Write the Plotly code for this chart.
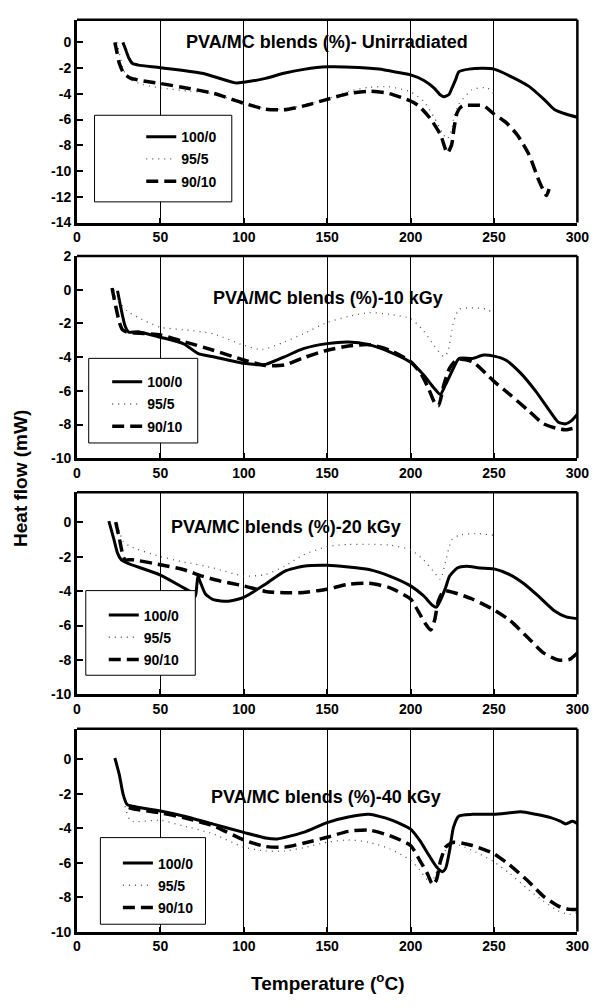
import plotly.graph_objects as go

# ---------------- data ----------------
series_names = ["100/0", "95/5", "90/10"]
panel_titles = ["PVA/MC blends (%)- Unirradiated", "PVA/MC blends (%)-10 kGy",
                "PVA/MC blends (%)-20 kGy", "PVA/MC blends (%)-40 kGy"]
x_ticks = [0, 50, 100, 150, 200, 250, 300]
y_ticks_p1 = [0, -2, -4, -6, -8, -10, -12, -14]
y_ticks_p2 = [2, 0, -2, -4, -6, -8, -10]
y_ticks_p34 = [0, -2, -4, -6, -8, -10]

# Panel 1: unirradiated
T1_100 = [27.5, 29, 31, 33.3, 36.7, 50, 75, 95, 100, 113, 124, 136, 150, 169, 181, 192, 200, 208, 214, 218, 220, 223, 225, 227, 229, 235, 244, 250, 259, 271, 280, 286, 293, 300]
H1_100 = [0, -0.5, -1.2, -1.65, -1.77, -1.97, -2.4, -3.15, -3.1, -2.8, -2.4, -2.1, -1.9, -1.95, -2.08, -2.33, -2.53, -2.96, -3.54, -4.1, -4.23, -4.05, -3.5, -2.9, -2.28, -2.08, -2.02, -2.08, -2.58, -3.42, -4.43, -5.19, -5.57, -5.82]
T1_95 = [24, 26, 28, 32, 40, 50, 68, 82, 100, 113, 124, 136, 150, 163, 175, 187, 200, 208, 214, 219, 222, 224.6, 226, 229, 237, 246, 250]
H1_95 = [0, -1.2, -2.2, -2.9, -3.3, -3.54, -3.8, -4.0, -4.75, -5.15, -5.2, -4.9, -4.4, -3.8, -3.5, -3.45, -3.85, -4.6, -5.8, -7.0, -7.5, -6.8, -5.8, -4.8, -3.67, -3.54, -4.0]
T1_90 = [22.7, 24, 25.4, 28, 32, 40, 50, 68, 82, 100, 113, 124, 136, 150, 163, 175, 187, 200, 205, 212, 218, 222, 224.6, 226, 228, 231, 239, 244, 250, 257, 264, 271, 277, 281.5, 283]
H1_90 = [0, -0.8, -1.65, -2.4, -2.78, -3.0, -3.2, -3.6, -3.97, -4.73, -5.19, -5.24, -4.94, -4.43, -3.97, -3.8, -3.97, -4.56, -4.94, -5.95, -7.2, -8.6, -7.97, -6.7, -5.44, -4.94, -4.89, -4.94, -5.57, -6.2, -7.2, -8.73, -10.76, -11.9, -11.4]

# Panel 2: 10 kGy
T2_100 = [24.3, 26.5, 28.8, 31, 36.7, 50, 63.7, 72.7, 81.7, 100, 113, 124.4, 135.7, 150, 162.7, 175, 187.4, 200, 207.7, 214, 217.8, 221, 225.7, 229, 237, 243.7, 250, 257, 266, 275, 284, 288.6, 293, 296.5, 300]
H2_100 = [-0.06, -1.17, -2.14, -2.52, -2.49, -2.82, -3.2, -3.79, -3.98, -4.37, -4.43, -3.98, -3.5, -3.2, -3.1, -3.26, -3.69, -4.31, -5.05, -5.83, -6.21, -5.63, -4.66, -4.08, -4.08, -3.88, -3.94, -4.17, -4.95, -6.02, -7.28, -7.86, -7.96, -7.77, -7.38]
T2_95 = [22, 23.2, 30, 36.7, 50, 63.7, 81.7, 100, 111, 124.4, 135.7, 150, 162.7, 175, 187.4, 200, 207.7, 214, 220, 222.3, 225.7, 229, 237, 246, 250]
H2_95 = [0, -0.4, -1.26, -1.65, -2.23, -2.37, -2.62, -3.3, -3.55, -3.1, -2.62, -1.94, -1.59, -1.36, -1.46, -1.71, -2.43, -3.3, -3.98, -3.69, -1.94, -1.17, -1.07, -1.17, -1.46]
T2_90 = [21, 23.2, 25.4, 27.2, 30, 50, 63.7, 81.7, 100, 113, 124.4, 135.7, 150, 162.7, 175, 187.4, 200, 206.6, 211, 214.4, 216.7, 220, 223.4, 228, 237, 250, 259.4, 270.7, 279.7, 288.6, 293, 300]
H2_90 = [0.1, -0.97, -1.94, -2.37, -2.52, -2.68, -3.07, -3.59, -4.17, -4.5, -4.47, -4.04, -3.59, -3.34, -3.26, -3.59, -4.27, -5.05, -5.92, -6.7, -6.89, -5.63, -4.66, -4.12, -4.27, -5.44, -6.21, -7.18, -7.96, -8.25, -8.31, -8.16]

# Panel 3: 20 kGy
T3_100 = [19.1, 22, 24.3, 26.5, 30, 50, 63.7, 69.3, 71, 71.8, 72.5, 74, 77, 81.7, 90.7, 100, 113, 124.4, 135.7, 150, 162.7, 175, 187.4, 200, 207.7, 213.3, 215.5, 217.8, 221, 223.4, 228, 233.5, 241.4, 250, 259.4, 268.4, 277.4, 286.4, 293.2, 300]
H3_100 = [0.06, -0.95, -1.8, -2.18, -2.37, -3.07, -3.8, -4.1, -4.3, -3.7, -3.13, -3.5, -4.17, -4.5, -4.59, -4.36, -3.6, -2.85, -2.56, -2.5, -2.6, -2.75, -3.13, -3.7, -4.27, -4.84, -4.93, -4.55, -3.8, -3.13, -2.66, -2.56, -2.66, -2.71, -3.04, -3.6, -4.36, -5.16, -5.5, -5.6]
T3_95 = [24.3, 27.7, 32.2, 50, 63.7, 81.7, 100, 113, 124.4, 135.7, 150, 162.7, 175, 187.4, 200, 207.7, 214.4, 217.8, 221, 224.6, 229, 239, 250]
H3_95 = [-0.1, -1.14, -1.42, -2.0, -2.3, -2.66, -3.13, -3.04, -2.56, -1.9, -1.42, -1.29, -1.29, -1.33, -1.61, -2.18, -2.94, -3.32, -2.28, -1.04, -0.76, -0.66, -0.76]
T3_90 = [23.2, 25.4, 27.2, 28.8, 33.3, 50, 63.7, 75, 86, 100, 113, 124.4, 135.7, 150, 162.7, 175, 187.4, 200, 204.3, 208.8, 212, 214.4, 216.7, 220, 225.7, 237, 250, 259.4, 270.7, 279.7, 288.6, 295.3, 300]
H3_90 = [0, -0.95, -1.8, -2.18, -2.18, -2.47, -2.75, -3.13, -3.42, -3.7, -4.02, -4.1, -4.08, -3.89, -3.6, -3.55, -3.8, -4.46, -5.12, -5.88, -6.26, -5.69, -4.55, -3.98, -4.08, -4.46, -5.09, -5.69, -6.74, -7.59, -8.0, -7.97, -7.59]

# Panel 4: 40 kGy
T4_100 = [22.7, 25.4, 27.7, 30, 33.3, 50, 63.7, 81.7, 100, 113, 120, 135.7, 150, 162.7, 175, 187.4, 200, 205.5, 211, 215.5, 219, 221, 223.4, 225.7, 229, 237, 250, 259.4, 266, 275, 284, 290, 293, 297, 300]
H4_100 = [0.08, -0.91, -2.05, -2.62, -2.72, -3.0, -3.29, -3.76, -4.24, -4.56, -4.62, -4.24, -3.67, -3.35, -3.19, -3.48, -4.05, -4.71, -5.57, -6.24, -6.52, -6.33, -5.29, -3.95, -3.29, -3.19, -3.19, -3.1, -3.04, -3.19, -3.38, -3.6, -3.75, -3.6, -3.73]
T4_95 = [28.8, 32.2, 50, 63.7, 81.7, 100, 113, 124.4, 135.7, 150, 162.7, 175, 187.4, 200, 205.5, 210, 212, 214.4, 219, 223.4, 230, 239, 250, 259.4, 270.7, 279.7, 288.6, 295.3, 300]
H4_95 = [-2.72, -3.57, -3.54, -3.86, -4.33, -5.1, -5.32, -5.32, -5.13, -4.81, -4.68, -4.81, -5.19, -5.86, -6.43, -7.0, -7.19, -6.81, -5.67, -4.9, -5.0, -5.38, -5.95, -6.62, -7.57, -8.23, -8.8, -9.0, -8.9]
T4_90 = [31, 35, 50, 63.7, 81.7, 100, 113, 124.4, 135.7, 150, 162.7, 175, 187.4, 200, 205.5, 210, 213.3, 215.5, 217.8, 221, 225.7, 237, 250, 259.4, 270.7, 279.7, 288.6, 295.3, 300]
H4_90 = [-2.8, -2.9, -3.1, -3.38, -3.86, -4.68, -5.06, -5.1, -4.87, -4.52, -4.18, -4.1, -4.43, -5.0, -5.86, -6.62, -7.28, -7.0, -5.95, -5.1, -4.81, -5.0, -5.48, -6.14, -7.09, -7.95, -8.52, -8.71, -8.71]

panels = [
    [(T1_100, H1_100), (T1_95, H1_95), (T1_90, H1_90)],
    [(T2_100, H2_100), (T2_95, H2_95), (T2_90, H2_90)],
    [(T3_100, H3_100), (T3_95, H3_95), (T3_90, H3_90)],
    [(T4_100, H4_100), (T4_95, H4_95), (T4_90, H4_90)],
]
y_tick_sets = [y_ticks_p1, y_ticks_p2, y_ticks_p34, y_ticks_p34]

# ---------------- layout geometry (pixels) ----------------
W, H = 603, 1008
def PX(p): return p / W
def PY(p): return 1 - p / H

plot_left, plot_right = 75, 589
panel_px = [(12, 218), (252, 457.5), (492, 697.5), (732.5, 938.5)]
y_ranges = [[-14, 1.75], [-10, 2], [-10, 1.74], [-10, 1.77]]
title_pos = [(332, 35), (333, 295), (290, 527), (331, 802)]
legend_box = [(93, 109, 234, 197), (87, 356, 199, 442), (84, 592, 196.5, 678), (99, 843, 207, 931)]
legend_text = [(181, 127), (146, 376), (142.5, 613), (157, 865)]

FONT = "Liberation Sans, Arial, sans-serif"
styles = [
    dict(color="black", width=3, dash="solid"),
    dict(color="#555555", width=1.3, dash="1px,5px"),
    dict(color="black", width=3.5, dash="12px,6px"),
]

fig = go.Figure()
shapes = []
annotations = []
layout_extra = {}

for i in range(4):
    xa = "x" if i == 0 else f"x{i+1}"
    ya = "y" if i == 0 else f"y{i+1}"
    leg = "legend" if i == 0 else f"legend{i+1}"
    for j, (tx, hy) in enumerate(panels[i]):
        fig.add_trace(go.Scatter(
            x=tx, y=hy, mode="lines", name=series_names[j],
            line=dict(**styles[j], shape="spline", smoothing=0.6),
            xaxis=xa, yaxis=ya, legend=leg, legendgroup=f"g{i}_{j}",
            showlegend=True, hoverinfo="skip"))
    top, bot = panel_px[i]
    axkey_x = "xaxis" if i == 0 else f"xaxis{i+1}"
    axkey_y = "yaxis" if i == 0 else f"yaxis{i+1}"
    layout_extra[axkey_x] = dict(
        domain=[PX(plot_left), PX(plot_right)], anchor=ya, range=[0, 300],
        tickvals=x_ticks, ticktext=[str(v) for v in x_ticks],
        showgrid=True, gridcolor="black", gridwidth=1,
        showline=True, linecolor="black", linewidth=3,
        ticks="inside", ticklen=5, tickwidth=2, tickcolor="black",
        tickfont=dict(family=FONT, size=14, color="black", weight="bold"),
        zeroline=False, fixedrange=True)
    layout_extra[axkey_y] = dict(
        domain=[PY(bot), PY(top)], anchor=xa, range=y_ranges[i],
        tickvals=y_tick_sets[i], ticktext=[str(v) for v in y_tick_sets[i]],
        showgrid=False, showline=True, linecolor="black", linewidth=3,
        ticks="inside", ticklen=6, tickwidth=2, tickcolor="black",
        tickfont=dict(family=FONT, size=14, color="black", weight="bold"),
        zeroline=False, fixedrange=True)
    # top / right frame
    shapes.append(dict(type="line", xref=f"{xa} domain", yref=f"{ya} domain",
                       x0=0, x1=1, y0=1, y1=1, line=dict(color="black", width=2.5), layer="above"))
    shapes.append(dict(type="line", xref=f"{xa} domain", yref=f"{ya} domain",
                       x0=1, x1=1, y0=0, y1=1, line=dict(color="black", width=2.5), layer="above"))
    # legend box
    bx0, by0, bx1, by1 = legend_box[i]
    shapes.append(dict(type="rect", xref="paper", yref="paper",
                       x0=PX(bx0), x1=PX(bx1), y0=PY(by1), y1=PY(by0),
                       fillcolor="white", line=dict(color="black", width=1), layer="above"))
    tx0, ty0 = legend_text[i]
    layout_extra[leg] = dict(
        x=PX(tx0 - 40), y=PY(ty0 - 12), xanchor="left", yanchor="top",
        xref="paper", yref="paper",
        bgcolor="rgba(0,0,0,0)", borderwidth=0, traceorder="grouped",
        tracegroupgap=1, font=dict(family=FONT, size=14, color="black", weight="bold"))
    annotations.append(dict(
        text=panel_titles[i], xref="paper", yref="paper",
        x=PX(title_pos[i][0]), y=PY(title_pos[i][1]), xanchor="center", yanchor="middle",
        showarrow=False, font=dict(family=FONT, size=18, color="black", weight="bold")))

annotations.append(dict(text="Temperature (<sup>o</sup>C)", xref="paper", yref="paper",
                        x=PX(332), y=PY(990), xanchor="center", yanchor="middle", showarrow=False,
                        font=dict(family=FONT, size=19, color="black", weight="bold")))
annotations.append(dict(text="Heat flow (mW)", xref="paper", yref="paper", textangle=-90,
                        x=PX(17), y=PY(478), xanchor="center", yanchor="middle", showarrow=False,
                        font=dict(family=FONT, size=19, color="black", weight="bold")))

fig.update_layout(
    width=W, height=H, margin=dict(l=0, r=0, t=0, b=0),
    paper_bgcolor="white", plot_bgcolor="white",
    shapes=shapes, annotations=annotations, showlegend=True,
    **layout_extra)

fig.write_html("out.html", config={"displayModeBar": False},
               post_script="document.body.style.margin='0px';document.body.style.overflow='hidden';")
